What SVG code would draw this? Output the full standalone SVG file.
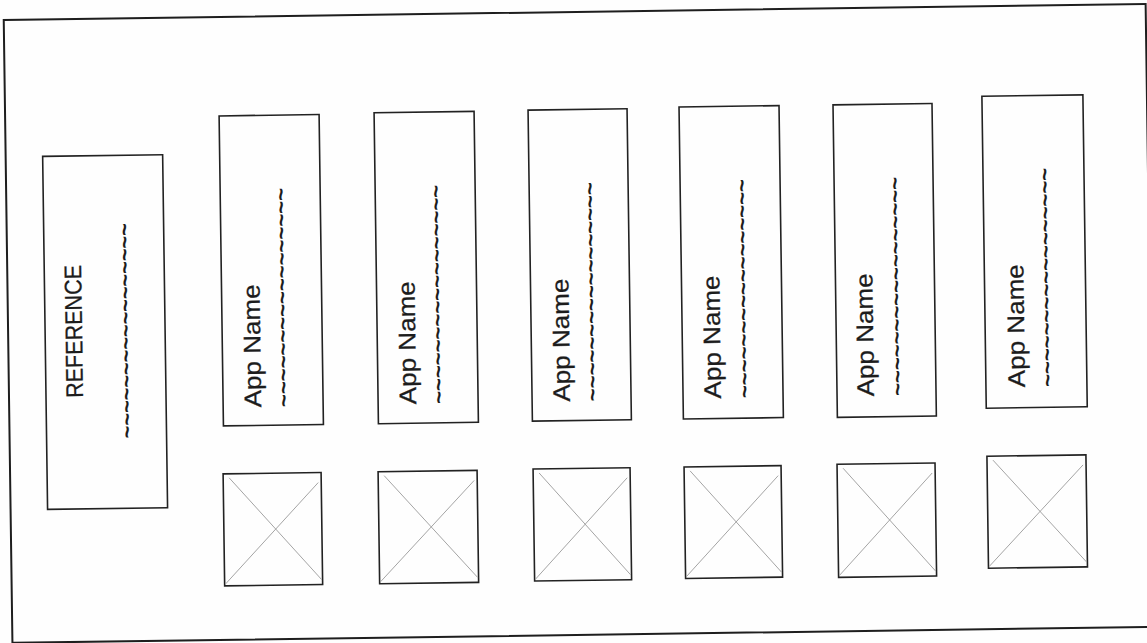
<svg xmlns="http://www.w3.org/2000/svg" width="1147" height="643" viewBox="0 0 1147 643">
<style>
.frame{fill:none;stroke:#1e1e1e;stroke-width:2}
.box{fill:none;stroke:#222;stroke-width:1.6}
.diag{stroke:#9a9a9a;stroke-width:0.9;fill:none}
.lbl{font-family:"Liberation Sans",Arial,sans-serif;font-size:24px;fill:#1c1c1c;stroke:#1c1c1c;stroke-width:0.25}
.tld{font-family:"Liberation Sans",Arial,sans-serif;font-size:22px;font-weight:bold;fill:#1c1c1c}
</style>
<rect width="1147" height="643" fill="#fefefe"/>
<g transform="rotate(-0.8 573 321)">
<rect id="frame" class="frame" x="8" y="12" width="1142" height="623"/>
<g id="reference">
<rect class="box" x="45" y="149" width="120" height="353"/>
<text class="lbl" transform="translate(82,391) rotate(-90)" textLength="133" lengthAdjust="spacingAndGlyphs">REFERENCE</text>
<text class="tld" transform="translate(133,432) rotate(-90)" textLength="215" lengthAdjust="spacingAndGlyphs">~~~~~~~~~~~~~~~~~</text>
</g>
<g id="app1">
<rect class="box" x="222" y="111" width="100" height="310"/>
<text class="lbl" transform="translate(260,403) rotate(-90)" textLength="123" lengthAdjust="spacingAndGlyphs">App Name</text>
<text class="tld" transform="translate(290,403) rotate(-90)" textLength="219" lengthAdjust="spacingAndGlyphs">~~~~~~~~~~~~~~~~~</text>
</g>
<g id="app2">
<rect class="box" x="377" y="110" width="100" height="311"/>
<text class="lbl" transform="translate(415,402) rotate(-90)" textLength="123" lengthAdjust="spacingAndGlyphs">App Name</text>
<text class="tld" transform="translate(445,402) rotate(-90)" textLength="219" lengthAdjust="spacingAndGlyphs">~~~~~~~~~~~~~~~~~</text>
</g>
<g id="app3">
<rect class="box" x="531" y="109.5" width="99" height="311"/>
<text class="lbl" transform="translate(569,401.5) rotate(-90)" textLength="123" lengthAdjust="spacingAndGlyphs">App Name</text>
<text class="tld" transform="translate(599,401.5) rotate(-90)" textLength="219" lengthAdjust="spacingAndGlyphs">~~~~~~~~~~~~~~~~~</text>
</g>
<g id="app4">
<rect class="box" x="682" y="108.5" width="100" height="312"/>
<text class="lbl" transform="translate(720,400.5) rotate(-90)" textLength="123" lengthAdjust="spacingAndGlyphs">App Name</text>
<text class="tld" transform="translate(751,400.5) rotate(-90)" textLength="219" lengthAdjust="spacingAndGlyphs">~~~~~~~~~~~~~~~~~</text>
</g>
<g id="app5">
<rect class="box" x="836" y="108.5" width="99" height="312.5"/>
<text class="lbl" transform="translate(873,400.5) rotate(-90)" textLength="123" lengthAdjust="spacingAndGlyphs">App Name</text>
<text class="tld" transform="translate(904,400.5) rotate(-90)" textLength="219" lengthAdjust="spacingAndGlyphs">~~~~~~~~~~~~~~~~~</text>
</g>
<g id="app6">
<rect class="box" x="985" y="102" width="101" height="312"/>
<text class="lbl" transform="translate(1024,393.5) rotate(-90)" textLength="123" lengthAdjust="spacingAndGlyphs">App Name</text>
<text class="tld" transform="translate(1054,393.5) rotate(-90)" textLength="219" lengthAdjust="spacingAndGlyphs">~~~~~~~~~~~~~~~~~</text>
</g>
<g id="img1">
<rect class="box" x="221" y="469" width="98" height="112"/>
<path class="diag" d="M227,473 L318,576 M222,579 L316,479"/>
</g>
<g id="img2">
<rect class="box" x="376" y="469" width="99" height="112"/>
<path class="diag" d="M382,473 L474,576 M377,579 L472,479"/>
</g>
<g id="img3">
<rect class="box" x="531" y="468.5" width="97" height="112"/>
<path class="diag" d="M537,472.5 L627,575.5 M532,578.5 L625,478.5"/>
</g>
<g id="img4">
<rect class="box" x="682" y="468.5" width="97" height="111.5"/>
<path class="diag" d="M688,472.5 L778,575 M683,578 L776,478.5"/>
</g>
<g id="img5">
<rect class="box" x="835" y="468" width="98" height="113"/>
<path class="diag" d="M841,472 L932,576 M836,579 L930,478"/>
</g>
<g id="img6">
<rect class="box" x="985" y="462" width="99" height="112"/>
<path class="diag" d="M991,466 L1083,569 M986,572 L1081,472"/>
</g>
<g id="connectors"/>
</g>
</svg>
